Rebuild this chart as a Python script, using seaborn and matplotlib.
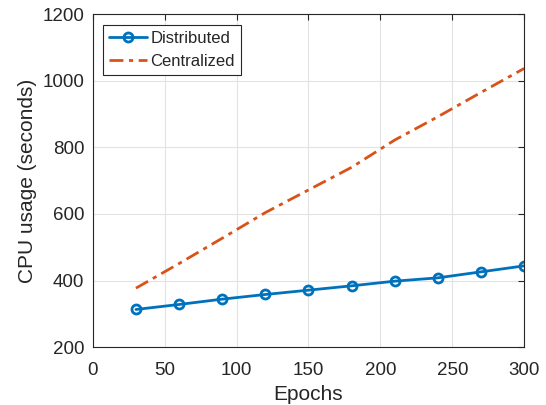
import matplotlib
matplotlib.use("Agg")
import matplotlib.pyplot as plt
import seaborn as sns
import pandas as pd

epochs = [30, 60, 90, 120, 150, 180, 210, 240, 270, 300]
distributed = [313, 328, 344, 358, 371, 384, 398, 408, 426, 444]
centralized = [377, 451, 527, 604, 672, 740, 822, 892, 965, 1037]
x_ticks = [0, 50, 100, 150, 200, 250, 300]
y_ticks = [200, 400, 600, 800, 1000, 1200]

sns.set_style("whitegrid")
plt.rcParams['font.family'] = ['Liberation Sans', 'DejaVu Sans']

df_d = pd.DataFrame({"Epochs": epochs, "CPU": distributed})
df_c = pd.DataFrame({"Epochs": epochs, "CPU": centralized})

fig = plt.figure(figsize=(5.46, 4.05), dpi=100)
ax = fig.add_axes([0.170, 0.143, 0.790, 0.822])

sns.lineplot(data=df_d, x="Epochs", y="CPU", ax=ax, color="#0072BD", lw=2,
             marker="o", markersize=6.5, markerfacecolor="none",
             markeredgecolor="#0072BD", markeredgewidth=2, label="Distributed")
sns.lineplot(data=df_c, x="Epochs", y="CPU", ax=ax, color="#D95319", lw=2,
             label="Centralized")
ax.lines[1].set_dashes([5, 2, 1.5, 2])

ax.set_xlim(0, 300)
ax.set_ylim(200, 1200)
ax.set_xticks(x_ticks)
ax.set_yticks(y_ticks)
ax.set_xlabel("Epochs", fontsize=15, color="#262626", labelpad=4.5)
ax.set_ylabel("CPU usage (seconds)", fontsize=15, color="#262626", labelpad=4)
ax.tick_params(axis="both", direction="in", length=4, width=0.8, colors="#262626",
               labelsize=13.5, top=True, right=True, labelcolor="#262626")
ax.tick_params(axis="y", pad=6)
ax.tick_params(axis="x", pad=10.5)
ax.grid(True, color="#e3e3e3", lw=0.8)
for s in ax.spines.values():
    s.set_color("#262626")
    s.set_linewidth(0.8)

leg = ax.legend(loc="upper left", fontsize=12, frameon=True, fancybox=False,
                edgecolor="#262626", framealpha=1, borderpad=0.35,
                handlelength=2.3, handletextpad=0.2, labelspacing=0.5,
                borderaxespad=0.0, bbox_to_anchor=(0.023, 0.967))
leg.get_frame().set_linewidth(0.8)

fig.savefig("out.png", dpi=100)
